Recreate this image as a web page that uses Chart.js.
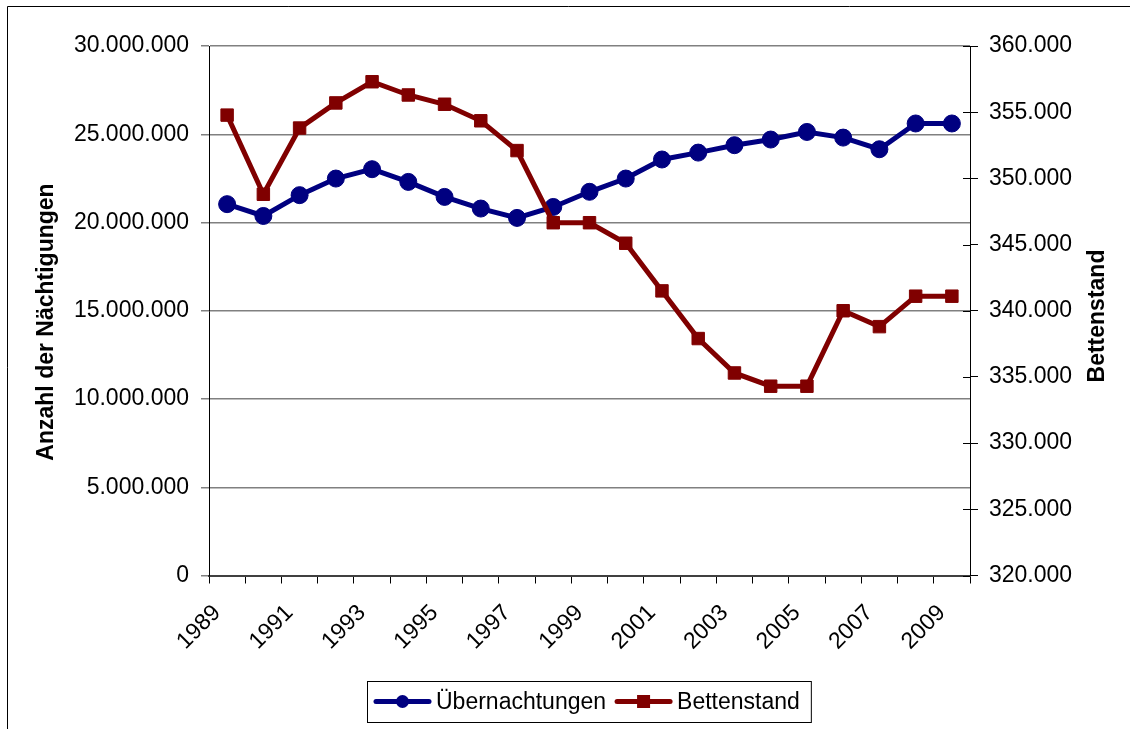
<!DOCTYPE html>
<html>
<head>
<meta charset="utf-8">
<title>Übernachtungen und Bettenstand</title>
<script src="https://cdn.jsdelivr.net/npm/chart.js@4.4.1/dist/chart.umd.min.js"></script>
<style>
  body { margin: 0; background: #fff; }
  canvas { display: block; }
</style>
</head>
<body>
<canvas id="chart" width="1130" height="729"></canvas>
<script>
// --- Data ---
const years = ['1989', '1990', '1991', '1992', '1993', '1994', '1995', '1996', '1997', '1998',
    '1999', '2000', '2001', '2002', '2003', '2004', '2005', '2006', '2007', '2008', '2009'];

const uebernachtungen = [21040000, 20370000, 21550000, 22490000, 23020000, 22300000, 21450000,
    20790000, 20260000, 20880000, 21740000, 22490000, 23570000, 23960000, 24380000, 24700000,
    25130000, 24810000, 24150000, 25610000, 25610000];

const bettenstand = [354780, 348800, 353800, 355700, 357300, 356300, 355600, 354350, 352100,
    346650, 346650, 345100, 341500, 337900, 335300, 334300, 334300, 340000, 338800, 341100, 341100];

const leftTicks = [0, 30000000, 5000000];   // min, max, step
const rightTicks = [320000, 360000, 5000];  // min, max, step

const BLUE = '#000080';
const RED = '#800000';
const FONT = '"Liberation Sans", Arial, sans-serif';

// German thousands separator
function fmt(v) {
    return String(v).replace(/\B(?=(\d{3})+(?!\d))/g, '.');
}

// --- Frame, axis titles, legend (drawn around the chart) ---
const extras = {
    id: 'extras',
    beforeDraw(chart) {
        const ctx = chart.ctx;
        ctx.save();
        ctx.fillStyle = '#fff';
        ctx.fillRect(0, 0, chart.width, chart.height);
        ctx.restore();
    },
    afterDraw(chart) {
        const ctx = chart.ctx;
        const area = chart.chartArea;
        ctx.save();

        // outer frame (only top and left edge visible)
        ctx.strokeStyle = '#000';
        ctx.lineWidth = 1;
        ctx.beginPath();
        ctx.moveTo(7.5, chart.height);
        ctx.lineTo(7.5, 6.5);
        ctx.lineTo(chart.width, 6.5);
        ctx.stroke();

        // inner half of the right axis ticks
        const yr = chart.scales.y1;
        ctx.strokeStyle = '#000';
        yr.ticks.forEach((t, i) => {
            const py = Math.round(yr.getPixelForTick(i)) + 0.5;
            ctx.beginPath();
            ctx.moveTo(area.right - 7, py);
            ctx.lineTo(area.right, py);
            ctx.stroke();
        });

        // axis titles
        ctx.fillStyle = '#000';
        ctx.font = 'bold 23px ' + FONT;
        ctx.textAlign = 'center';
        ctx.textBaseline = 'middle';
        ctx.save();
        ctx.translate(47, 322);
        ctx.rotate(-Math.PI / 2);
        ctx.fillText('Anzahl der Nächtigungen', 0, 0);
        ctx.restore();
        ctx.save();
        ctx.translate(1098, 316);
        ctx.rotate(-Math.PI / 2);
        ctx.fillText('Bettenstand', 0, 0);
        ctx.restore();

        // legend
        ctx.font = '23px ' + FONT;
        const sets = chart.data.datasets;
        const symW = 57, gapT = 5, gapItem = 9, padL = 7, padR = 11;
        const widths = sets.map(d => ctx.measureText(d.label).width);
        const total = padL + padR + sets.length * (symW + gapT) + widths.reduce((a, b) => a + b, 0) + gapItem;
        let x = Math.round((area.left + area.right) / 2 - total / 2) - 1;
        const top = 681, h = 41, cy = top + h / 2;
        ctx.strokeStyle = '#000';
        ctx.lineWidth = 1;
        ctx.strokeRect(x + 0.5, top + 0.5, total, h);
        x += padL;
        sets.forEach((d, i) => {
            ctx.strokeStyle = d.borderColor;
            ctx.lineWidth = 5;
            ctx.lineCap = 'round';
            ctx.beginPath();
            ctx.moveTo(x + 2, cy);
            ctx.lineTo(x + symW - 2, cy);
            ctx.stroke();
            ctx.fillStyle = d.backgroundColor;
            if (d.pointStyle === 'rect') {
                ctx.fillRect(x + symW / 2 - 6.5, cy - 6.5, 13, 13);
            } else {
                ctx.beginPath();
                ctx.arc(x + symW / 2, cy, 6.5, 0, Math.PI * 2);
                ctx.fill();
            }
            ctx.fillStyle = '#000';
            ctx.textAlign = 'left';
            ctx.fillText(d.label, x + symW + gapT, cy + 1);
            x += symW + gapT + widths[i] + gapItem;
        });
        ctx.restore();
    }
};

new Chart(document.getElementById('chart').getContext('2d'), {
    type: 'line',
    data: {
        labels: years,
        datasets: [{
            label: 'Übernachtungen',
            data: uebernachtungen,
            yAxisID: 'y',
            borderColor: BLUE,
            backgroundColor: BLUE,
            borderWidth: 5,
            pointStyle: 'circle',
            pointRadius: 8.5,
            pointBorderWidth: 1,
            tension: 0,
            order: 1
        }, {
            label: 'Bettenstand',
            data: bettenstand,
            yAxisID: 'y1',
            borderColor: RED,
            backgroundColor: RED,
            borderWidth: 5,
            pointStyle: 'rect',
            pointRadius: 8.8,
            pointBorderWidth: 1,
            tension: 0,
            order: 0
        }]
    },
    options: {
        responsive: false,
        animation: false,
        layout: { padding: { top: 46, left: 0, right: 0, bottom: 0 } },
        plugins: {
            legend: { display: false },
            tooltip: { enabled: false }
        },
        scales: {
            x: {
                offset: true,
                grid: { offset: true, drawOnChartArea: false, color: '#000', tickLength: 8 },
                border: { color: '#404040', width: 2 },
                ticks: {
                    autoSkip: false,
                    maxRotation: 45,
                    minRotation: 45,
                    padding: 16,
                    labelOffset: -10,
                    color: '#000',
                    font: { family: FONT, size: 23 },
                    callback: (v, i) => (i % 2 === 0 ? years[i] : '')
                },
                afterFit: s => { s.height = 729 - 46 - 529.5; }
            },
            y: {
                position: 'left',
                min: leftTicks[0],
                max: leftTicks[1],
                grid: { color: '#808080', lineWidth: 1.5, tickLength: 8 },
                border: { color: '#000', width: 1 },
                ticks: {
                    stepSize: leftTicks[2],
                    padding: 12,
                    color: '#000',
                    font: { family: FONT, size: 23 },
                    callback: v => fmt(v)
                },
                afterFit: s => { s.width = 209; }
            },
            y1: {
                position: 'right',
                min: rightTicks[0],
                max: rightTicks[1],
                grid: { drawOnChartArea: false, color: '#000', tickLength: 8 },
                border: { color: '#000', width: 1 },
                ticks: {
                    stepSize: rightTicks[2],
                    padding: 11,
                    color: '#000',
                    font: { family: FONT, size: 23 },
                    callback: v => fmt(v)
                },
                afterFit: s => { s.width = 160; }
            }
        }
    },
    plugins: [extras]
});
</script>
</body>
</html>
